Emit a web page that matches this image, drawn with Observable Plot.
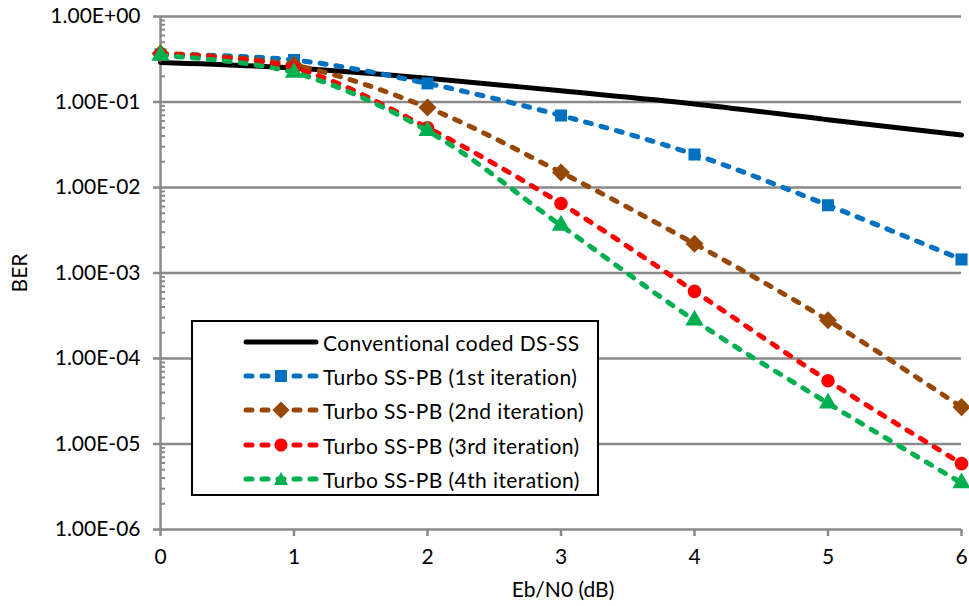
<!DOCTYPE html>
<html><head><meta charset="utf-8">
<script src="https://cdn.jsdelivr.net/npm/d3@7"></script>
<script src="https://cdn.jsdelivr.net/npm/@observablehq/plot@0.6"></script>
<style>
body{margin:0;background:#fff;}
#wrap{position:relative;width:969px;height:606px;font-family:Lato,"Open Sans",sans-serif;color:#000;}
#legend{position:absolute;left:191px;top:320px;width:404px;height:172px;border:2.5px solid #000;background:#fff;}
.row{position:absolute;left:0;height:30px;display:flex;align-items:center;}
.row svg{margin-left:50px;}
.row span{margin-left:4px;font-size:21px;letter-spacing:0.4px;white-space:nowrap;}
.title{position:absolute;font-size:21px;white-space:nowrap;}
</style></head><body><div id="wrap"></div>
<script>
const ebn0 = [0, 1, 2, 3, 4, 5, 6];
const conventional = [0.29, 0.25, 0.19, 0.135, 0.095, 0.062, 0.041];
const iter1 = [0.36, 0.31, 0.165, 0.0695, 0.0243, 0.0062, 0.00144];
const iter2 = [0.37, 0.27, 0.086, 0.015, 0.0022, 0.00028, 0.000027];
const iter3 = [0.36, 0.25, 0.050, 0.0065, 0.00061, 0.000055, 0.0000059];
const iter4 = [0.35, 0.221, 0.046, 0.0036, 0.00028, 0.000030, 0.0000035];
const seriesNames = ["Conventional coded DS-SS", "Turbo SS-PB (1st iteration)", "Turbo SS-PB (2nd iteration)", "Turbo SS-PB (3rd iteration)", "Turbo SS-PB (4th iteration)"];
const seriesColors = ["#000000", "#0070C0", "#974706", "#FF0000", "#00B050"];
const seriesSymbols = [null, "square", "square", "circle", "triangle"];
const seriesRotate = [0, 0, 45, 0, 0];
const yTicks = [1e-6, 1e-5, 1e-4, 1e-3, 1e-2, 1e-1, 1];
const xTicks = [0, 1, 2, 3, 4, 5, 6];
const xLabel = "Eb/N0 (dB)";
const yLabel = "BER";

const seriesValues = [conventional, iter1, iter2, iter3, iter4];
const rows = seriesValues.map((vals, i) => ebn0.map((x, j) => ({x, y: vals[j], s: seriesNames[i]})));

const minorTicks = [];
for (let k = -6; k < 0; k++) for (let m = 2; m <= 9; m++) minorTicks.push(m * Math.pow(10, k));

const fmt = d => { const e = Math.round(Math.log10(d)); return "1.00E" + (e >= 0 ? "+" : "-") + String(Math.abs(e)).padStart(2, "0"); };
const gray = "#898989";

const marks = [
  Plot.ruleY(yTicks, {stroke: gray, strokeWidth: 2.5}),
  Plot.ruleX([0], {stroke: gray, strokeWidth: 2.5}),
  Plot.axisY(minorTicks, {tickSize: -5, tickFormat: () => "", stroke: gray, strokeWidth: 2, label: null}),
  Plot.axisY(yTicks, {tickSize: 7, tickPadding: 13, tickFormat: fmt, stroke: gray, strokeWidth: 2.5, fill: "#000", label: null}),
  Plot.axisX(xTicks, {tickSize: 7, tickPadding: 13, tickFormat: d => String(d), stroke: gray, strokeWidth: 2.5, fill: "#000", label: null})
];
rows.forEach((data, i) => {
  if (i === 0) {
    marks.push(Plot.line(data, {x: "x", y: "y", stroke: seriesColors[i], strokeWidth: 5, curve: "catmull-rom"}));
  } else {
    marks.push(Plot.line(data, {x: "x", y: "y", stroke: seriesColors[i], strokeWidth: 5, strokeDasharray: "6,10", strokeLinecap: "round", curve: "catmull-rom"}));
    marks.push(Plot.dot(data, {x: "x", y: "y", symbol: () => seriesSymbols[i], rotate: seriesRotate[i], r: i === 2 ? 7.2 : 6.8, fill: seriesColors[i], stroke: "none"}));
  }
});

const chart = Plot.plot({
  width: 969, height: 606,
  marginLeft: 160, marginRight: 8, marginTop: 16, marginBottom: 77,
  style: {fontSize: "21px", fontFamily: "Lato, 'Open Sans', sans-serif", color: "#000", background: "#fff"},
  x: {domain: [0, 6]},
  y: {type: "log", domain: [1e-6, 1]},
  marks
});
const wrap = document.getElementById("wrap");
wrap.appendChild(chart);

// axis titles
const xt = document.createElement("div");
xt.className = "title"; xt.textContent = xLabel;
xt.style.left = "563px"; xt.style.top = "588px"; xt.style.transform = "translate(-50%,-50%)";
wrap.appendChild(xt);
const yt = document.createElement("div");
yt.className = "title"; yt.textContent = yLabel;
yt.style.left = "18px"; yt.style.top = "273px"; yt.style.transform = "translate(-50%,-50%) rotate(-90deg)";
wrap.appendChild(yt);

// legend
const leg = document.createElement("div"); leg.id = "legend";
const rowTops = [5, 39, 73, 108, 142];
const symPath = {
  square: "M32,-6h12v12h-12z",
  diamond: "M38,-8.5L46.5,0L38,8.5L29.5,0z",
  circle: "M38,-6.5a6.5,6.5 0 1,0 0.01,0z",
  triangle: "M38,-7L45,6H31z"
};
const legSym = [null, "square", "diamond", "circle", "triangle"];
seriesNames.forEach((name, i) => {
  const r = document.createElement("div"); r.className = "row"; r.style.top = rowTops[i] + "px";
  const dash = i === 0 ? "" : 'stroke-dasharray="6,10"';
  const sym = legSym[i] ? `<path d="${symPath[legSym[i]]}" fill="${seriesColors[i]}"/>` : "";
  r.innerHTML = `<svg width="76" height="20" viewBox="0 -10 76 20"><line x1="3" x2="73" y1="0" y2="0" stroke="${seriesColors[i]}" stroke-width="5" stroke-linecap="round" ${dash}/>${sym}</svg><span>${name}</span>`;
  leg.appendChild(r);
});
wrap.appendChild(leg);
</script></body></html>
